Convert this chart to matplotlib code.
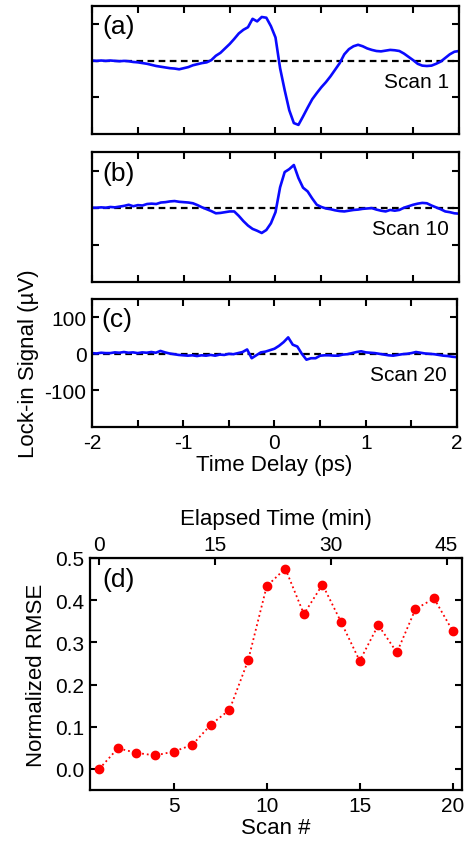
import numpy as np
import matplotlib.pyplot as plt
from matplotlib.ticker import MultipleLocator, FormatStrFormatter

plt.rcParams['font.family'] = ['Liberation Sans', 'DejaVu Sans']
plt.rcParams['axes.unicode_minus'] = False

# time delay axis (ps), one reading every 0.05 ps
t = np.linspace(-2, 2, 81)

# lock-in signal (uV)
scan1 = [1, 0, 1, 0, 1, 0, -1, 0, -1, -3,
         -4, -6, -8, -11, -14, -16, -18, -20, -21, -23,
         -20, -17, -12, -9, -6, -4, 2, 14, 22, 34,
         46, 60, 75, 85, 92, 115, 108, 120, 118, 95,
         64, -20, -80, -135, -170, -175, -152, -128, -105, -88,
         -72, -58, -42, -24, -6, 18, 32, 40, 44, 40,
         34, 30, 27, 26, 28, 30, 29, 27, 20, 11,
         2, -8, -13, -14, -13, -8, -2, 8, 18, 25, 27]
scan10 = [0, 0, 1, 0, 2, 1, 3, 5, 8, 4,
          7, 6, 10, 11, 10, 14, 15, 17, 18, 16,
          15, 14, 12, 7, 1, -4, -9, -15, -14, -12,
          -10, -10, -22, -36, -48, -57, -62, -68, -60, -42,
          -12, 55, 96, 104, 115, 80, 54, 44, 25, 8,
          2, -2, -4, -7, -9, -10, -8, -6, -5, -3,
          -2, -1, -5, -8, -10, -6, -8, -6, 0, 4,
          8, 11, 13, 12, 6, 1, -4, -10, -12, -15, -16]
scan20 = [2, 1, 3, 2, 2, 4, 3, 5, 3, 4,
          2, 4, 3, 5, 3, 8, 4, 1, -1, -3,
          -4, -5, -4, -6, -4, -5, -3, -5, -2, -3,
          0, -1, 2, 5, 12, -12, -4, 4, 6, 10,
          14, 22, 32, 45, 25, 20, 0, -16, -12, -12,
          -5, -4, -4, -5, -5, -2, -1, 2, 5, 7,
          4, 3, 2, 0, -2, -4, -5, -3, -1, 0,
          2, 5, 3, 1, 0, -1, -3, -5, -6, -8, -9]

# normalized RMSE per scan
scan_num = np.arange(1, 21)
rmse = [0.0, 0.049, 0.038, 0.032, 0.041, 0.057, 0.105, 0.140, 0.257, 0.433,
        0.475, 0.367, 0.437, 0.348, 0.256, 0.341, 0.276, 0.379, 0.404, 0.327]
min_per_scan = 2.41

fig = plt.figure(figsize=(4.66, 8.45), dpi=100)

def style(ax):
    for s in ax.spines.values():
        s.set_linewidth(1.6)
    ax.tick_params(which='both', direction='in', top=True, right=True,
                   length=5, width=1.5, labelsize=15, pad=4)

def trace_panel(rect, y, letter, name, last=False):
    ax = fig.add_axes(rect)
    ax.plot(t, y, color='#0a0aff', lw=1.9)
    ax.axhline(0, color='black', lw=1.6, ls=(0, (3, 2)), zorder=0)
    ax.set_xlim(-2, 2)
    ax.set_ylim(-200, 150)
    ax.xaxis.set_major_locator(MultipleLocator(1))
    ax.xaxis.set_minor_locator(MultipleLocator(0.5))
    ax.set_yticks([-100, 0, 100])
    style(ax)
    ax.text(0.027, 0.84, letter, transform=ax.transAxes, fontsize=19,
            va='center', ha='left')
    ax.text(0.972, 0.41, name, transform=ax.transAxes, fontsize=15,
            va='center', ha='right')
    if not last:
        ax.tick_params(labelbottom=False, labelleft=False)
    return ax

ax_a = trace_panel([0.1974, 0.8402, 0.7876, 0.1515], scan1, '(a)', 'Scan 1')
ax_b = trace_panel([0.1974, 0.6651, 0.7876, 0.1538], scan10, '(b)', 'Scan 10')
ax_c = trace_panel([0.1974, 0.4935, 0.7833, 0.1515], scan20, '(c)', 'Scan 20',
                   last=True)
ax_c.set_xlabel('Time Delay (ps)', fontsize=16, labelpad=2)
ax_c.set_ylabel('Lock-in Signal (\u00b5V)', fontsize=16, labelpad=4)

# panel d
ax_d = fig.add_axes([0.1931, 0.0639, 0.7983, 0.2746])
ax_d.plot(scan_num, rmse, color='red', lw=1.3, ls=':', marker='o',
          markersize=6)
ax_d.set_xlim(0.5, 20.5)
ax_d.set_ylim(-0.05, 0.5)
ax_d.set_xticks([5, 10, 15, 20])
ax_d.set_yticks([0.0, 0.1, 0.2, 0.3, 0.4, 0.5])
ax_d.yaxis.set_major_formatter(FormatStrFormatter('%.1f'))
style(ax_d)
ax_d.tick_params(top=False)
ax_d.set_xlabel('Scan #', fontsize=16, labelpad=2)
ax_d.set_ylabel('Normalized RMSE', fontsize=16, labelpad=6)
ax_d.text(0.032, 0.91, '(d)', transform=ax_d.transAxes, fontsize=19,
          va='center', ha='left')

top = ax_d.secondary_xaxis('top', functions=(lambda s: (s - 1) * min_per_scan,
                                              lambda m: m / min_per_scan + 1))
top.set_xticks([0, 15, 30, 45])
top.tick_params(direction='in', length=5, width=1.5, labelsize=15, pad=3)
top.set_xlabel('Elapsed Time (min)', fontsize=16, labelpad=8)

fig.savefig('out.png', dpi=100)
